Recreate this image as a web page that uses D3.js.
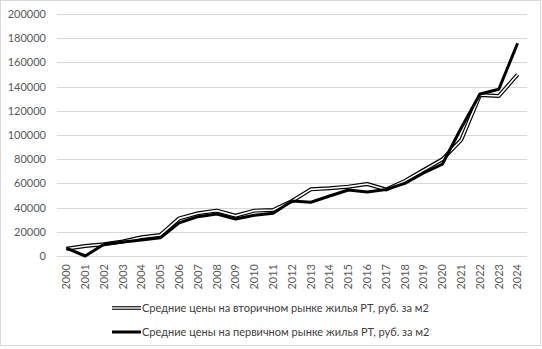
<!DOCTYPE html>
<html><head><meta charset="utf-8">
<script src="https://cdn.jsdelivr.net/npm/d3@7"></script>
<style>body{margin:0;background:#fff}svg{display:block}</style>
</head><body>
<script>
const years = ["2000","2001","2002","2003","2004","2005","2006","2007","2008","2009","2010","2011","2012","2013","2014","2015","2016","2017","2018","2019","2020","2021","2022","2023","2024"];
const secondary = [6000,8300,9700,12000,15500,17400,31100,35300,37500,33300,37500,38000,45500,55100,56000,57300,59500,55000,62000,71000,79900,95900,133000,132200,150000];
const primary = [6500,0,9700,11600,13200,15100,27500,32500,34700,30600,33600,35300,45500,44400,49600,54500,52900,55000,60000,68600,76000,105800,133900,137800,175800];
const yTicks = [0,20000,40000,60000,80000,100000,120000,140000,160000,180000,200000];
const seriesNames = ["Средние цены на вторичном рынке жилья РТ, руб. за м2","Средние цены на первичном рынке жилья РТ, руб. за м2"];

const W=542,H=349;
const svg=d3.select("body").append("svg").attr("width",W).attr("height",H);
svg.append("rect").attr("x",0.5).attr("y",0.5).attr("width",540).attr("height",345).attr("fill","#fff").attr("stroke","#d9d9d9");
const font="Lato, 'Open Sans', sans-serif";
const x=d3.scaleBand().domain(years).range([57,527]);
const y=d3.scaleLinear().domain([0,200000]).range([256,14]);
const g=svg.append("g");
g.selectAll("line.grid").data(yTicks).join("line").attr("x1",57).attr("x2",527)
 .attr("y1",d=>Math.round(y(d))+0.5).attr("y2",d=>Math.round(y(d))+0.5).attr("stroke","#d9d9d9").attr("stroke-width",1);
const ya=svg.append("g").attr("transform","translate(50,0)").call(d3.axisLeft(y).tickValues(yTicks).tickSize(0).tickPadding(4).tickFormat(d3.format("d")));
ya.select(".domain").remove();
ya.selectAll("text").attr("font-family",font).attr("font-size",11).attr("fill","#595959");
const xa=svg.append("g").attr("transform","translate(0,256)").call(d3.axisBottom(x).tickSize(0).tickPadding(0));
xa.select(".domain").remove();
xa.selectAll("text").attr("font-family",font).attr("font-size",11).attr("fill","#595959")
 .attr("transform","rotate(-90)").attr("text-anchor","end").attr("dx","-8").attr("dy","0.35em").attr("y",0).attr("x",0);
const line=d3.line().x((d,i)=>x(years[i])+x.bandwidth()/2).y(d=>y(d));
svg.append("path").datum(secondary).attr("d",line).attr("fill","none").attr("stroke","#000").attr("stroke-width",4).attr("stroke-linejoin","round");
svg.append("path").datum(secondary).attr("d",line).attr("fill","none").attr("stroke","#fff").attr("stroke-width",1.6).attr("stroke-linejoin","round");
svg.append("path").datum(primary).attr("d",line).attr("fill","none").attr("stroke","#000").attr("stroke-width",3).attr("stroke-linejoin","round");
// legend
const lg=svg.append("g");
[0,1].forEach(i=>{
 const ly=[308,332][i];
 if(i===0){
  lg.append("line").attr("x1",112).attr("x2",141).attr("y1",ly).attr("y2",ly).attr("stroke","#000").attr("stroke-width",3.6);
  lg.append("line").attr("x1",112).attr("x2",141).attr("y1",ly).attr("y2",ly).attr("stroke","#fff").attr("stroke-width",1.4);
 } else {
  lg.append("line").attr("x1",112).attr("x2",141).attr("y1",ly).attr("y2",ly).attr("stroke","#000").attr("stroke-width",3);
 }
 lg.append("text").attr("x",142).attr("y",ly).attr("dy","0.35em").attr("font-family",font).attr("font-size",11).attr("fill","#404040").text(seriesNames[i]);
});
</script>
</body></html>
